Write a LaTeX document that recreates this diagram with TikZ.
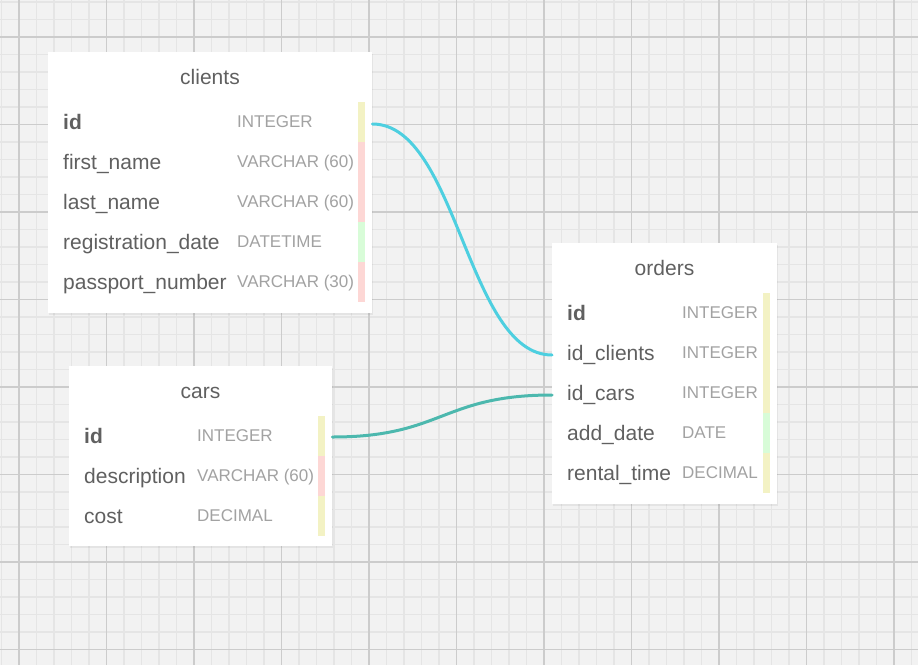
\documentclass[tikz,border=0pt]{standalone}
\usepackage{xcolor}
\usepackage{fontspec}
\setmainfont{Liberation Sans}
\usetikzlibrary{positioning,shadows}

\definecolor{bgcol}{HTML}{F2F2F2}
\definecolor{minorcol}{HTML}{E5E5E5}
\definecolor{majorcol}{HTML}{CCCCCC}
\definecolor{namecol}{HTML}{606060}
\definecolor{typecol}{HTML}{A2A2A2}
\definecolor{keyyellow}{HTML}{F3F2C4}
\definecolor{keypink}{HTML}{FDD7D5}
\definecolor{keygreen}{HTML}{D8FCD8}
\definecolor{linkcyan}{HTML}{4DCFE0}
\definecolor{linkteal}{HTML}{4CB8AE}

\tikzset{
  tbl/.style={fill=white, anchor=north west, inner sep=0pt,
    drop shadow={shadow xshift=0.5pt, shadow yshift=-1.5pt, opacity=0.12}},
  tbltitle/.style={anchor=base, inner sep=0pt, text=namecol, font=\fontsize{21}{25}\selectfont},
  fname/.style={anchor=base west, inner sep=0pt, text=namecol, font=\fontsize{21}{25}\selectfont},
  ftype/.style={anchor=base west, inner sep=0pt, text=typecol, font=\fontsize{17}{20}\selectfont},
  link/.style={line width=3pt, line cap=round},
}

\begin{document}
\begin{tikzpicture}[x=1pt, y=-1pt]
\useasboundingbox (0,0) rectangle (918,665);
% --- background grid ---
\fill[bgcol] (0,0) rectangle (918,665);
\foreach \x in {1.5,19,...,912}
  \draw[minorcol, line width=1.5pt] (\x,0) -- (\x,665);
\foreach \y in {2,19.5,...,665}
  \draw[minorcol, line width=1.5pt] (0,\y) -- (918,\y);
\foreach \x in {19,106.5,...,900}
  \draw[majorcol, line width=1.5pt] (\x,0) -- (\x,665);
\foreach \y in {37,124.5,...,660}
  \draw[majorcol, line width=1.5pt] (0,\y) -- (918,\y);
% --- table: clients ---
\begin{scope}[shift={(48,52)}]
\node[tbl, minimum width=324pt, minimum height=261pt] (clients) at (0,0) {};
\node[tbltitle] (clients-title) at (162,32) {clients};
\foreach \n/\t/\c [count=\i] in {\textbf{id}/INTEGER/keyyellow, first\_name/VARCHAR (60)/keypink,
    last\_name/VARCHAR (60)/keypink, registration\_date/DATETIME/keygreen, passport\_number/VARCHAR (30)/keypink}{
  \coordinate (clients-row\i) at (162,{30+40*\i});
  \node[fname] (clients-name\i) at (15,{37+40*\i}) {\n};
  \node[ftype] (clients-type\i) at (189,{35+40*\i}) {\t};
  \fill[\c] (310,{10+40*\i}) rectangle (317,{50+40*\i});
}
\end{scope}
% --- table: cars ---
\begin{scope}[shift={(69,366)}]
\node[tbl, minimum width=263pt, minimum height=180pt] (cars) at (0,0) {};
\node[tbltitle] (cars-title) at (131.5,32) {cars};
\foreach \n/\t/\c [count=\i] in {\textbf{id}/INTEGER/keyyellow, description/VARCHAR (60)/keypink,
    cost/DECIMAL/keyyellow}{
  \coordinate (cars-row\i) at (131.5,{30+40*\i});
  \node[fname] (cars-name\i) at (15,{37+40*\i}) {\n};
  \node[ftype] (cars-type\i) at (128,{35+40*\i}) {\t};
  \fill[\c] (249,{10+40*\i}) rectangle (256,{50+40*\i});
}
\end{scope}
% --- table: orders ---
\begin{scope}[shift={(552,243)}]
\node[tbl, minimum width=225pt, minimum height=261pt] (orders) at (0,0) {};
\node[tbltitle] (orders-title) at (112.5,32) {orders};
\foreach \n/\t/\c [count=\i] in {\textbf{id}/INTEGER/keyyellow, id\_clients/INTEGER/keyyellow,
    id\_cars/INTEGER/keyyellow, add\_date/DATE/keygreen, rental\_time/DECIMAL/keyyellow}{
  \coordinate (orders-row\i) at (112.5,{30+40*\i});
  \node[fname] (orders-name\i) at (15,{37+40*\i}) {\n};
  \node[ftype] (orders-type\i) at (130,{35+40*\i}) {\t};
  \fill[\c] (211,{10+40*\i}) rectangle (218,{50+40*\i});
}
\end{scope}
% --- references ---
\draw[link, linkcyan] ([yshift=-2pt]clients.east |- clients-row1) .. controls +(85,0) and +(-85,0) .. ([yshift=-2pt]orders.west |- orders-row2);
\draw[link, linkteal] ([yshift=-1pt]cars.east |- cars-row1) .. controls +(110,0) and +(-110,0) .. ([yshift=-2pt]orders.west |- orders-row3);
\end{tikzpicture}
\end{document}
